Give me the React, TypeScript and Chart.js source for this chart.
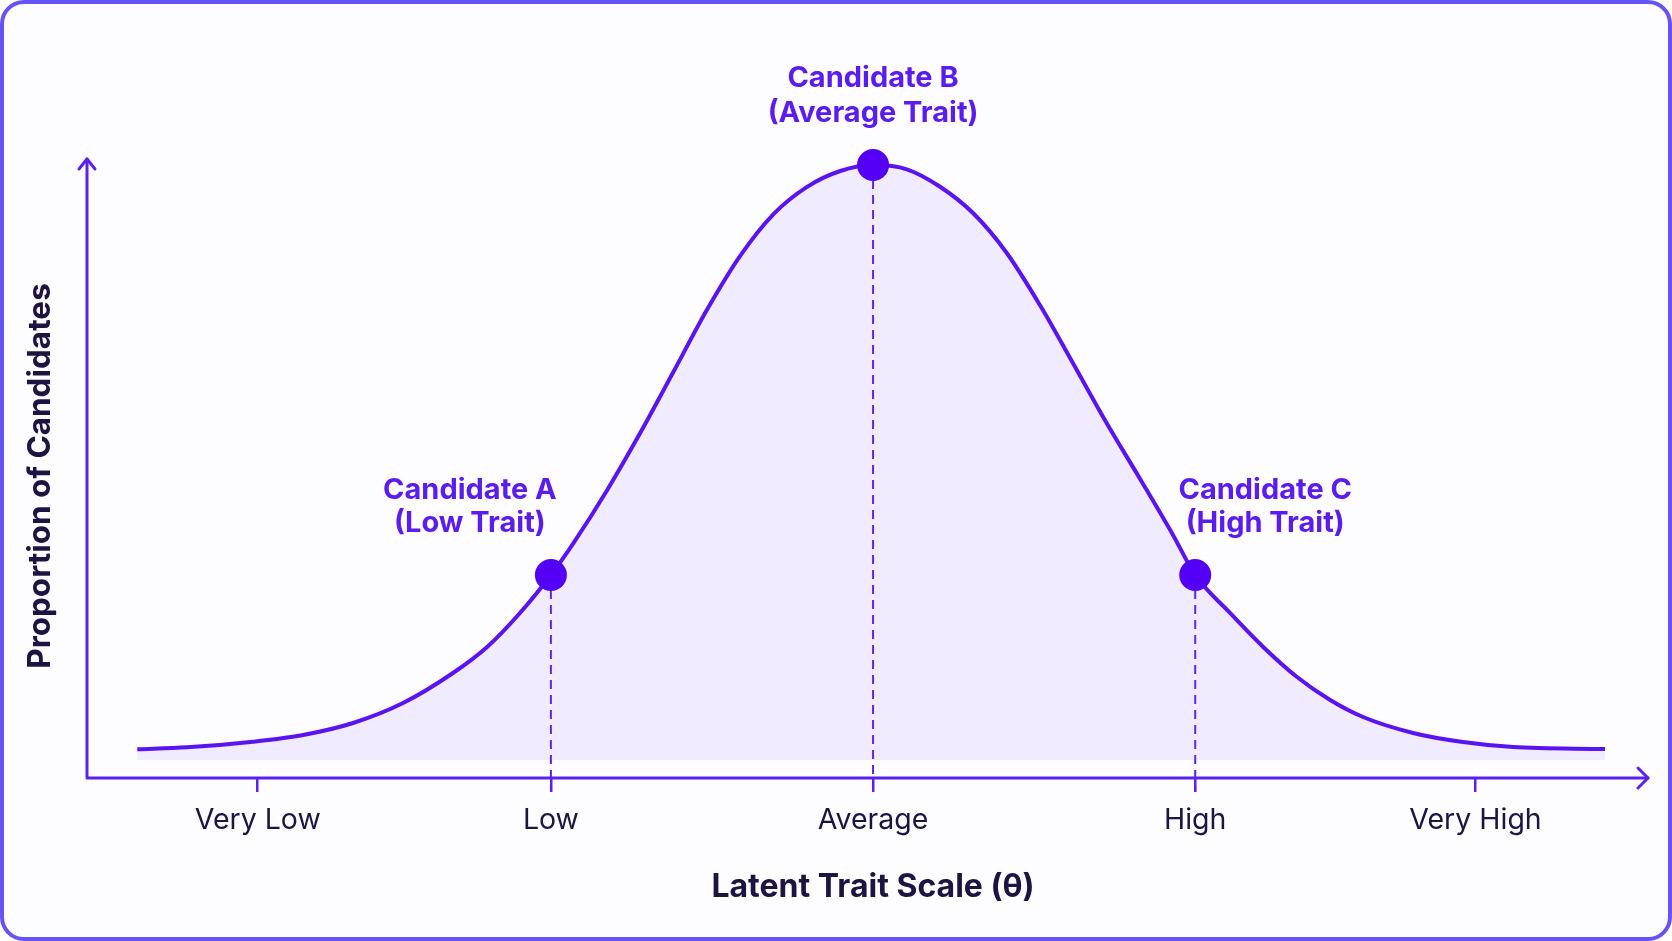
import React, { useEffect, useRef } from 'react';
import { Chart, registerables } from 'chart.js';

Chart.register(...registerables);

// ---- data ----
const TRAIT_X = [
  -2.284, -2.13, -1.925, -1.769, -1.614, -1.459, -1.304, -1.198, -1.096, -1.0,
  -0.93, -0.827, -0.723, -0.62, -0.516, -0.413, -0.309, -0.206, -0.102, 0,
  0.105, 0.208, 0.311, 0.415, 0.518, 0.622, 0.725, 0.829, 0.931, 1.0,
  1.108, 1.211, 1.316, 1.419, 1.521, 1.676, 1.831, 1.987, 2.272,
];
const DENSITY_Y = [
  0.0187, 0.02, 0.0237, 0.0281, 0.0359, 0.0489, 0.0685, 0.0855, 0.1077, 0.1325,
  0.1533, 0.1873, 0.2251, 0.2649, 0.3054, 0.3406, 0.368, 0.3856, 0.3961, 0.4,
  0.3972, 0.3858, 0.3685, 0.3426, 0.3086, 0.2701, 0.2316, 0.1951, 0.1586, 0.1325,
  0.1077, 0.0855, 0.0659, 0.0509, 0.0398, 0.0294, 0.0235, 0.0202, 0.0189,
];
const FILL_BASE = 0.0117;

const TICK_VALUES = [-1.91, -1, 0, 1, 1.87];
const TICK_LABELS = ['Very Low', 'Low', 'Average', 'High', 'Very High'];

const CANDIDATE_X = [-1, 0, 1];
const CANDIDATE_Y = [0.1325, 0.4, 0.1325];
const CANDIDATE_NAMES = ['Candidate A', 'Candidate B', 'Candidate C'];
const CANDIDATE_TRAITS = ['(Low Trait)', '(Average Trait)', '(High Trait)'];

const X_TITLE = 'Latent Trait Scale (θ)';
const Y_TITLE = 'Proportion of Candidates';

const X_MIN = -2.44;
const X_MAX = 2.39;
const Y_MIN = 0;
const Y_MAX = 0.4;

// ---- style ----
const W = 1672;
const H = 941;
const PURPLE = '#5a14f2';
const AXIS = '#5a22f0';
const POINT = '#5500f6';
const LABEL = '#5b1cf0';
const DARK = '#1d1442';
const FONT = 'Inter, "Noto Sans", sans-serif';
const LABEL_DX = [-81, 0, 70];
const LABEL_DY1 = [-85, -87, -85];
const LABEL_DY2 = [-52, -52, -52];

const decor = {
  id: 'decor',
  beforeDraw(chart: any) {
    const { ctx, width, height } = chart;
    ctx.save();
    ctx.fillStyle = '#ffffff';
    ctx.fillRect(0, 0, width, height);
    ctx.beginPath();
    ctx.roundRect(2, 2, width - 4, height - 4, 22);
    ctx.fillStyle = '#fdfdff';
    ctx.fill();
    ctx.lineWidth = 4;
    ctx.strokeStyle = '#6653f4';
    ctx.stroke();
    ctx.restore();
  },
  beforeDatasetsDraw(chart: any) {
    const { ctx, chartArea, scales } = chart;
    ctx.save();
    ctx.strokeStyle = AXIS;
    ctx.lineWidth = 2;
    ctx.setLineDash([9, 6]);
    CANDIDATE_X.forEach((cx, i) => {
      const x = scales.x.getPixelForValue(cx);
      const y = scales.y.getPixelForValue(CANDIDATE_Y[i]);
      ctx.beginPath();
      ctx.moveTo(x, y);
      ctx.lineTo(x, chartArea.bottom + 14);
      ctx.stroke();
    });
    ctx.restore();
  },
  afterDraw(chart: any) {
    const { ctx, chartArea, scales } = chart;
    const left = chartArea.left;
    const bottom = chartArea.bottom;
    ctx.save();
    ctx.strokeStyle = AXIS;
    ctx.lineWidth = 3;
    ctx.lineCap = 'round';
    ctx.lineJoin = 'round';
    // axes
    ctx.beginPath();
    ctx.moveTo(left, chartArea.top - 6);
    ctx.lineTo(left, bottom);
    ctx.lineTo(chartArea.right + 5, bottom);
    ctx.stroke();
    // y arrow
    ctx.beginPath();
    ctx.moveTo(left - 8, chartArea.top + 4);
    ctx.lineTo(left, chartArea.top - 6);
    ctx.lineTo(left + 8, chartArea.top + 4);
    ctx.stroke();
    // x arrow
    ctx.beginPath();
    ctx.moveTo(chartArea.right - 5, bottom - 10);
    ctx.lineTo(chartArea.right + 5, bottom);
    ctx.lineTo(chartArea.right - 5, bottom + 10);
    ctx.stroke();

    // candidate labels
    ctx.fillStyle = LABEL;
    ctx.font = `700 29px ${FONT}`;
    ctx.textAlign = 'center';
    ctx.textBaseline = 'middle';
    CANDIDATE_X.forEach((cx, i) => {
      const x = scales.x.getPixelForValue(cx) + LABEL_DX[i];
      const y = scales.y.getPixelForValue(CANDIDATE_Y[i]);
      ctx.fillText(CANDIDATE_NAMES[i], x, y + LABEL_DY1[i]);
      ctx.fillText(CANDIDATE_TRAITS[i], x, y + LABEL_DY2[i]);
    });

    // axis titles
    ctx.fillStyle = DARK;
    ctx.font = `700 32px ${FONT}`;
    ctx.fillText(X_TITLE, scales.x.getPixelForValue(0), 887);
    ctx.font = `700 31.5px ${FONT}`;
    ctx.translate(41, 476);
    ctx.rotate(-Math.PI / 2);
    ctx.fillText(Y_TITLE, 0, 0);
    ctx.restore();
  },
};

export default function App() {
  const ref = useRef<HTMLCanvasElement>(null);

  useEffect(() => {
    document.body.style.margin = '0';
    const canvas = ref.current!;
    const curve = TRAIT_X.map((x, i) => ({ x, y: DENSITY_Y[i] }));
    const points = CANDIDATE_X.map((x, i) => ({ x, y: CANDIDATE_Y[i] }));
    const chart = new Chart(canvas, {
      type: 'line',
      data: {
        datasets: [
          {
            label: 'Candidates',
            data: points,
            showLine: false,
            pointRadius: 16,
            pointHoverRadius: 16,
            pointBackgroundColor: POINT,
            pointBorderWidth: 0,
            clip: false,
            order: 0,
          } as any,
          {
            label: 'Distribution',
            data: curve,
            borderColor: PURPLE,
            borderWidth: 4,
            pointRadius: 0,
            cubicInterpolationMode: 'monotone',
            fill: { value: FILL_BASE },
            backgroundColor: 'rgba(138, 92, 246, 0.11)',
            clip: false,
            order: 1,
          } as any,
        ],
      },
      options: {
        responsive: false,
        animation: false,
        events: [],
        layout: { padding: { top: 165, right: 29, left: 0, bottom: 0 } },
        plugins: {
          legend: { display: false },
          tooltip: { enabled: false },
          title: { display: false },
        },
        scales: {
          x: {
            type: 'linear',
            min: X_MIN,
            max: X_MAX,
            afterFit: (s: any) => {
              s.height = H - 778;
            },
            afterBuildTicks: (s: any) => {
              s.ticks = TICK_VALUES.map((v) => ({ value: v }));
            },
            ticks: {
              autoSkip: false,
              maxRotation: 0,
              minRotation: 0,
              padding: 11,
              color: DARK,
              font: { family: FONT, size: 28.5, weight: 400 },
              callback: (_v: any, i: number) => TICK_LABELS[i],
            },
            grid: {
              drawOnChartArea: false,
              drawTicks: true,
              tickLength: 14,
              color: AXIS,
              lineWidth: 2.5,
            },
            border: { display: false },
          },
          y: {
            type: 'linear',
            min: Y_MIN,
            max: Y_MAX,
            afterFit: (s: any) => {
              s.width = 87;
            },
            ticks: { display: false },
            grid: { display: false },
            border: { display: false },
          },
        },
      },
      plugins: [decor],
    });
    return () => chart.destroy();
  }, []);

  return (
    <div style={{ width: W, height: H, position: 'relative' }}>
      <canvas ref={ref} width={W} height={H} style={{ display: 'block', width: W, height: H }} />
    </div>
  );
}
